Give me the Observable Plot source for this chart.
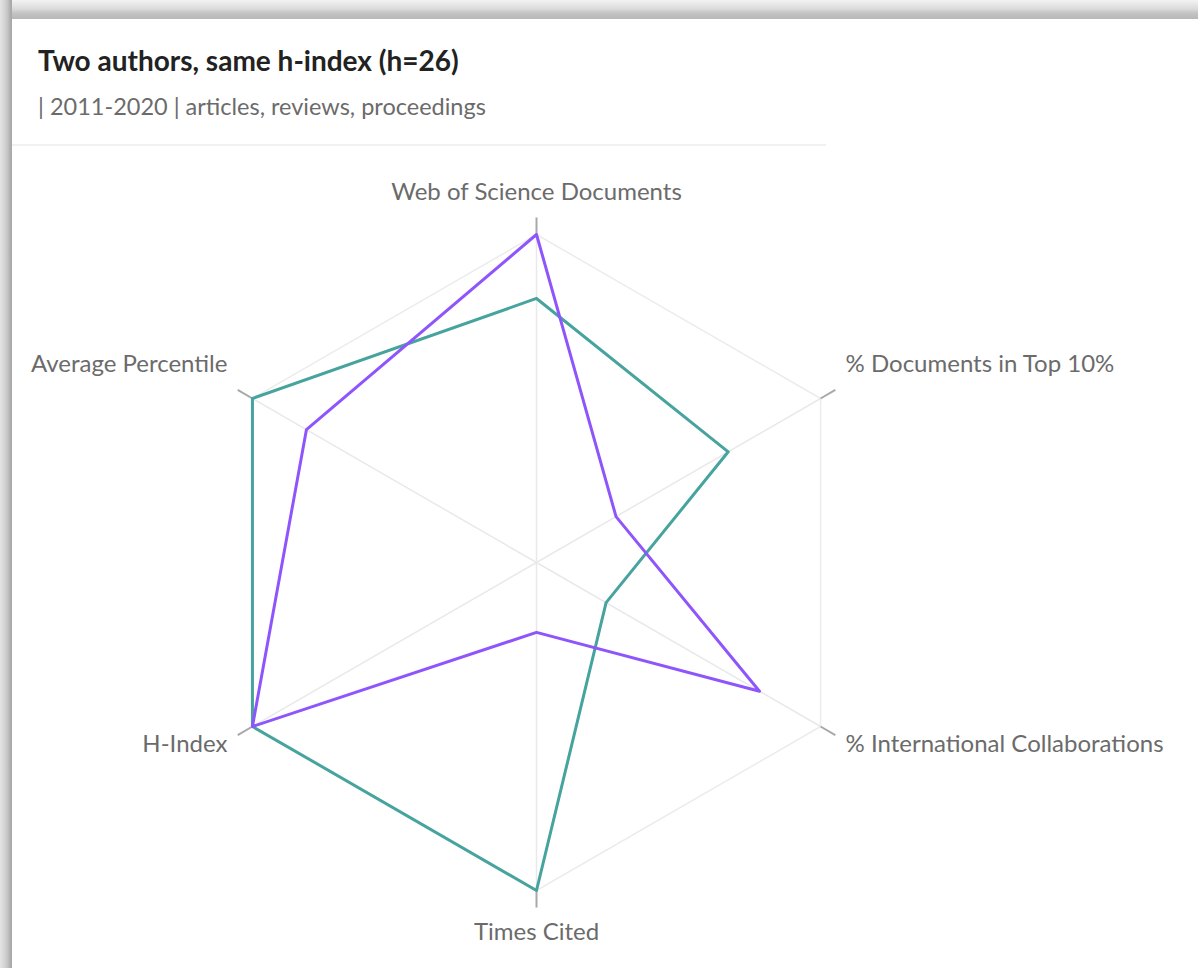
<!DOCTYPE html>
<html>
<head>
<meta charset="utf-8">
<script src="https://cdn.jsdelivr.net/npm/d3@7"></script>
<script src="https://cdn.jsdelivr.net/npm/@observablehq/plot@0.6"></script>
<style>
  html, body { margin: 0; padding: 0; background: #fff; }
  body { width: 1202px; height: 968px; position: relative; overflow: hidden; font-family: Lato, "Noto Sans", sans-serif; }
  #shadowTop { position: absolute; left: 0; top: 0; width: 1198px; height: 19px;
    background: linear-gradient(to bottom, #f3f3f3 0px, #e8e8e8 4px, #dadada 9px, #c4c4c4 13px, #b9b9b9 18px); }
  #shadowLeft { position: absolute; left: 0; top: 0; width: 12px; height: 968px;
    background: linear-gradient(to right, #e4e4e4 0px, #d6d6d6 4px, #c8c8c8 7px, #a9a9a9 11px); }
  #title { position: absolute; left: 38px; top: 43px; font-size: 28px; line-height: 34px; font-weight: bold; color: #222; white-space: nowrap; }
  #subtitle { position: absolute; left: 38px; top: 92px; font-size: 23.5px; line-height: 28px; color: #6b6b6b; white-space: nowrap; }
  #sep { position: absolute; left: 12px; top: 144px; width: 814px; height: 2px; background: #f1f1f1; }
  #chart { position: absolute; left: 0; top: 150px; }
</style>
</head>
<body>
<div id="shadowTop"></div>
<div id="shadowLeft"></div>
<div id="title">Two authors, same h-index (h=26)</div>
<div id="subtitle">| 2011-2020 | articles, reviews, proceedings</div>
<div id="sep"></div>
<div id="chart"></div>
<script>
// Axis categories (clockwise from top)
const categories = [
  "Web of Science Documents",
  "% Documents in Top 10%",
  "% International Collaborations",
  "Times Cited",
  "H-Index",
  "Average Percentile"
];
// Normalised values (share of the axis maximum)
const authorA = [0.805, 0.675, 0.245, 1.0, 1.0, 1.0];   // teal
const authorB = [1.0, 0.28, 0.785, 0.213, 1.0, 0.81];   // purple
const seriesNames = ["Author A", "Author B"];
const seriesColors = ["#46a39d", "#8f55fc"];

const W = 1202, H = 818;
const cx = 536, cy = 412, R = 328;

const n = categories.length;
const ang = i => (i * 2 * Math.PI) / n;
const px = (i, r) => r * Math.sin(ang(i));
const py = (i, r) => r * Math.cos(ang(i));

// grid
const spokes = categories.map((c, i) => ({x1: 0, y1: 0, x2: px(i, 1), y2: py(i, 1)}));
const ring = categories.map((c, i) => ({x: px(i, 1), y: py(i, 1), i}));
ring.push({...ring[0]});
const ticks = categories.map((c, i) => ({x1: px(i, 1), y1: py(i, 1), x2: px(i, 1.052), y2: py(i, 1.052)}));

const lines = [];
[authorA, authorB].forEach((vals, s) => {
  vals.concat([vals[0]]).forEach((v, k) => {
    const i = k % n;
    lines.push({series: seriesNames[s], x: px(i, v), y: py(i, v), order: k});
  });
});

const labelPos = [
  {dx: 0, dy: -42, anchor: "middle"},
  {dx: 25, dy: -34, anchor: "start"},
  {dx: 25, dy: 18, anchor: "start"},
  {dx: 0, dy: 42, anchor: "middle"},
  {dx: -25, dy: 18, anchor: "end"},
  {dx: -25, dy: -34, anchor: "end"}
];
const labelMarks = categories.map((c, i) => Plot.text([{x: px(i, 1), y: py(i, 1), label: c}], {
  x: "x", y: "y", text: "label", dx: labelPos[i].dx, dy: labelPos[i].dy,
  textAnchor: labelPos[i].anchor, fill: "#6b6b6b", fontSize: 24, fontFamily: "Lato, 'Noto Sans', sans-serif"
}));

const chart = Plot.plot({
  width: W, height: H,
  margin: 0,
  x: {domain: [-cx / R, (W - cx) / R], axis: null},
  y: {domain: [-(H - cy) / R, cy / R], axis: null},
  color: {domain: seriesNames, range: seriesColors},
  style: {background: "transparent", overflow: "visible"},
  marks: [
    Plot.link(spokes, {x1: "x1", y1: "y1", x2: "x2", y2: "y2", stroke: "#e9e9e9", strokeWidth: 1.5}),
    Plot.line(ring, {x: "x", y: "y", stroke: "#ececec", strokeWidth: 1.5}),
    Plot.link(ticks, {x1: "x1", y1: "y1", x2: "x2", y2: "y2", stroke: "#a8a8a8", strokeWidth: 2}),
    Plot.line(lines, {x: "x", y: "y", z: "series", stroke: "series", strokeWidth: 3, strokeLinejoin: "round", sort: null}),
    ...labelMarks
  ]
});
document.getElementById("chart").appendChild(chart);
</script>
</body>
</html>
